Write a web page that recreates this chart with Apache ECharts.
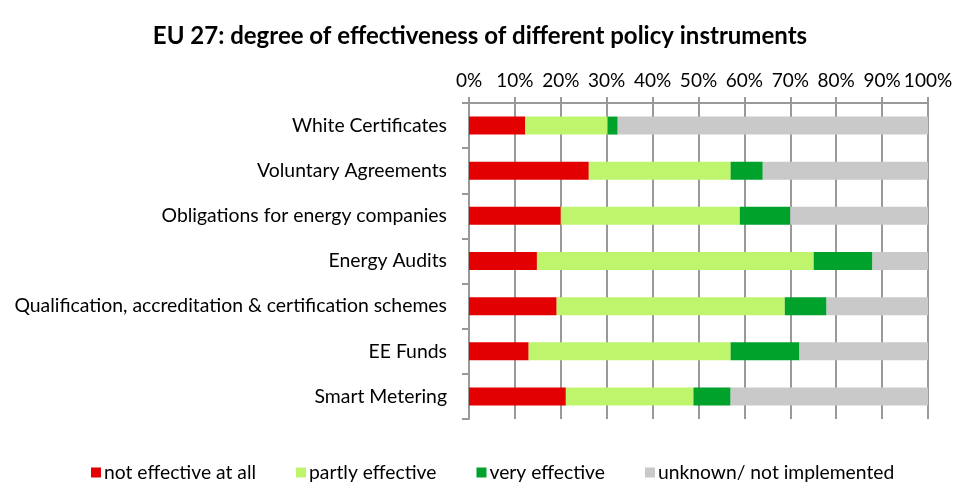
<!DOCTYPE html>
<html>
<head>
<meta charset="utf-8">
<script src="https://cdn.jsdelivr.net/npm/echarts@6/dist/echarts.min.js"></script>
<style>html,body{margin:0;padding:0;background:#fff;}#c{width:960px;height:490px;}</style>
</head>
<body>
<div id="c"></div>
<script>
const categories = ["White Certificates","Voluntary Agreements","Obligations for energy companies","Energy Audits","Qualification, accreditation & certification schemes","EE Funds","Smart Metering"];
const notEffective = [12.2, 26.1, 20.0, 14.8, 19.1, 13.0, 21.1];
const partlyEffective = [18.0, 30.9, 39.0, 60.3, 49.7, 44.0, 27.8];
const veryEffective = [2.2, 7.0, 11.0, 12.8, 9.1, 15.0, 8.1];
const unknown = [67.6, 36.0, 30.0, 12.1, 22.1, 28.0, 43.0];
const seriesNames = ["not effective at all","partly effective","very effective","unknown/ not implemented"];
const colors = ["#E30000","#BEF56C","#00A22C","#C9C9C9"];
const FONT = "Lato";
const chart = echarts.init(document.getElementById('c'), null, {renderer:'canvas'});
const dataSets = [notEffective, partlyEffective, veryEffective, unknown];
chart.setOption({
  animation:false,
  backgroundColor:'#fff',
  title:{text:'EU 27: degree of effectiveness of different policy instruments', left:'center', top:19,
    textStyle:{fontFamily:FONT, fontSize:24, fontWeight:'bold', color:'#000'}},
  legend:{left:86, top:458, icon:'rect', itemWidth:10, itemHeight:10, itemGap:40,
    textStyle:{fontFamily:FONT, fontSize:19.3, color:'#000', padding:[0,0,0,-2]},
    data:seriesNames},
  grid:{left:469, right:32, top:103, bottom:71, containLabel:false},
  xAxis:{type:'value', position:'top', min:0, max:100, interval:10,
    axisLine:{show:true, lineStyle:{color:'#999', width:2}},
    axisTick:{show:true, length:6, lineStyle:{color:'#999', width:2}},
    splitLine:{show:true, lineStyle:{color:'#999', width:2}},
    axisLabel:{formatter:'{value}%', margin:13, fontFamily:FONT, fontSize:19, color:'#000'}},
  yAxis:{type:'category', data:categories, inverse:true,
    axisLine:{show:true, lineStyle:{color:'#999', width:2}},
    axisTick:{show:true, length:7, lineStyle:{color:'#999', width:2}},
    axisLabel:{margin:22, fontFamily:FONT, fontSize:19.4, color:'#000', padding:[8,0,0,0]}},
  series: seriesNames.map((n,i)=>({name:n, type:'bar', stack:'a', barWidth:18,
    itemStyle:{color:colors[i]}, data:dataSets[i]}))
});
</script>
</body>
</html>
